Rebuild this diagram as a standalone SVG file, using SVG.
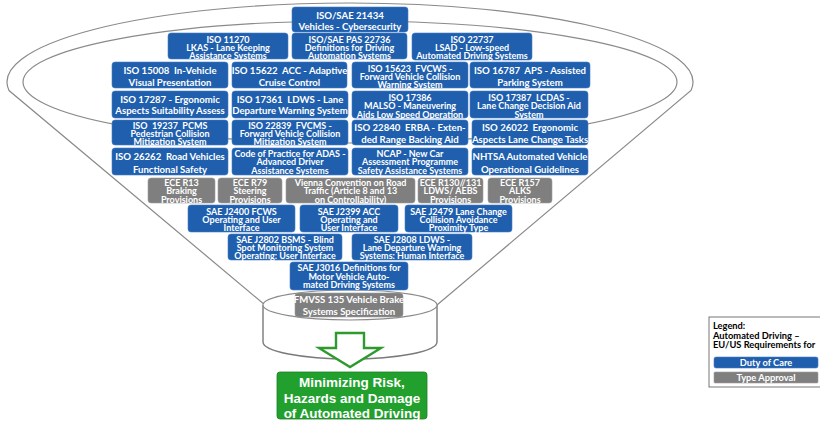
<svg xmlns="http://www.w3.org/2000/svg" width="820" height="422" viewBox="0 0 820 422">
<style>
.bl{fill:#1f5fae;stroke:#4a7fc4;stroke-width:0.6}
.gr{fill:#7f7f7f;stroke:#a0a0a0;stroke-width:0.6}
.t{font-family:Lato,"Liberation Sans",sans-serif;font-weight:700;fill:#fff;text-anchor:middle;white-space:pre}
.t2{font-size:9.6px}
.t3{font-size:9px}
.ln{fill:none;stroke:#8a8a8a;stroke-width:1.2}
.lg{font-family:Lato,"Liberation Sans",sans-serif;font-weight:700;font-size:9.3px;fill:#000}
</style>
<rect width="820" height="422" fill="#fff"/>
<g id="funnel">
<path class="ln" d="M265 305 L9 90.5 A343 79 0 1 1 691 90.5 L437 305" fill="#fff"/>
<ellipse class="ln" cx="350" cy="82" rx="327" ry="61"/>
<path d="M263 305 L263 342 A87 17 0 0 0 437 342 L437 305" fill="#fff" stroke="#7a7a7a" stroke-width="1.4"/>
<ellipse cx="350" cy="305" rx="87" ry="15" fill="#fff" stroke="#8a8a8a" stroke-width="1.1"/>
</g>
<g id="n21434"><rect class="bl" x="292" y="7" width="116" height="25" rx="3"/><text class="t t2"><tspan x="350" y="18.5">ISO/SAE 21434</tspan><tspan x="350" y="29.5">Vehicles - Cybersecurity</tspan></text></g>
<g id="n11270"><rect class="bl" x="168" y="33" width="120" height="26" rx="3"/><text class="t t3"><tspan x="228" y="42.5">ISO 11270</tspan><tspan x="228" y="51">LKAS - Lane Keeping</tspan><tspan x="228" y="58.5">Assistance Systems</tspan></text></g>
<g id="n22736"><rect class="bl" x="292" y="33" width="115" height="26" rx="3"/><text class="t t3"><tspan x="349.5" y="42.5">ISO/SAE PAS 22736</tspan><tspan x="349.5" y="51">Definitions for Driving</tspan><tspan x="349.5" y="58.5">Automation Systems</tspan></text></g>
<g id="n22737"><rect class="bl" x="412" y="33" width="120" height="27" rx="3"/><text class="t t3"><tspan x="472" y="42.5">ISO 22737</tspan><tspan x="472" y="51">LSAD - Low-speed</tspan><tspan x="472" y="58.5">Automated Driving Systems</tspan></text></g>
<g id="n15008"><rect class="bl" x="112" y="62" width="116" height="26" rx="3"/><text class="t t2"><tspan x="170" y="73.5">ISO 15008  In-Vehicle</tspan><tspan x="170" y="85.5">Visual Presentation</tspan></text></g>
<g id="n15622"><rect class="bl" x="232" y="62" width="115" height="26" rx="3"/><text class="t t2"><tspan x="289.5" y="73.5">ISO 15622  ACC - Adaptive</tspan><tspan x="289.5" y="85.5">Cruise Control</tspan></text></g>
<g id="n15623"><rect class="bl" x="352" y="62" width="116" height="26" rx="3"/><text class="t t3"><tspan x="410" y="71.5">ISO 15623  FVCWS -</tspan><tspan x="410" y="79.5">Forward Vehicle Collision</tspan><tspan x="410" y="88">Warning System</tspan></text></g>
<g id="n16787"><rect class="bl" x="470" y="62" width="120" height="26" rx="3"/><text class="t t2"><tspan x="530" y="73.5">ISO 16787  APS - Assisted</tspan><tspan x="530" y="85.5">Parking System</tspan></text></g>
<g id="n17287"><rect class="bl" x="112" y="91" width="116" height="27" rx="3"/><text class="t t2"><tspan x="170" y="102.5">ISO 17287 - Ergonomic</tspan><tspan x="170" y="114">Aspects Suitability Assess</tspan></text></g>
<g id="n17361"><rect class="bl" x="232" y="91" width="116" height="27" rx="3"/><text class="t t2"><tspan x="290" y="102.5">ISO 17361  LDWS - Lane</tspan><tspan x="290" y="114">Departure Warning System</tspan></text></g>
<g id="n17386"><rect class="bl" x="352" y="91" width="116" height="27" rx="3"/><text class="t t3"><tspan x="410" y="100.5">ISO 17386</tspan><tspan x="410" y="109">MALSO - Maneuvering</tspan><tspan x="410" y="117.5">Aids Low Speed Operation</tspan></text></g>
<g id="n17387"><rect class="bl" x="470" y="91" width="118" height="27" rx="3"/><text class="t t3"><tspan x="529" y="100.5">ISO 17387  LCDAS -</tspan><tspan x="529" y="109">Lane Change Decision Aid</tspan><tspan x="529" y="117.5">System</tspan></text></g>
<g id="n19237"><rect class="bl" x="112" y="120" width="116" height="25" rx="3"/><text class="t t3"><tspan x="170" y="128.5">ISO  19237  PCMS</tspan><tspan x="170" y="137">Pedestrian Collision</tspan><tspan x="170" y="145">Mitigation System</tspan></text></g>
<g id="n22839"><rect class="bl" x="232" y="120" width="116" height="25" rx="3"/><text class="t t3"><tspan x="290" y="128.5">ISO 22839  FVCMS -</tspan><tspan x="290" y="137">Forward Vehicle Collision</tspan><tspan x="290" y="145">Mitigation System</tspan></text></g>
<g id="n22840"><rect class="bl" x="352" y="120" width="116" height="25" rx="3"/><text class="t t2"><tspan x="410" y="130.5">ISO 22840  ERBA - Exten-</tspan><tspan x="410" y="142.5">ded Range Backing Aid</tspan></text></g>
<g id="n26022"><rect class="bl" x="472" y="120" width="116" height="25" rx="3"/><text class="t t2"><tspan x="530" y="130.5">ISO 26022  Ergonomic</tspan><tspan x="530" y="142.5">Aspects Lane Change Tasks</tspan></text></g>
<g id="n26262"><rect class="bl" x="112" y="148" width="116" height="27" rx="3"/><text class="t t2"><tspan x="170" y="160">ISO 26262  Road Vehicles</tspan><tspan x="170" y="172.5">Functional Safety</tspan></text></g>
<g id="nCoP"><rect class="bl" x="232" y="148" width="116" height="27" rx="3"/><text class="t t3"><tspan x="290" y="156.5">Code of Practice for ADAS -</tspan><tspan x="290" y="165">Advanced Driver</tspan><tspan x="290" y="174">Assistance Systems</tspan></text></g>
<g id="nNCAP"><rect class="bl" x="352" y="148" width="116" height="27" rx="3"/><text class="t t3"><tspan x="410" y="156.5">NCAP - New Car</tspan><tspan x="410" y="165">Assessment Programme</tspan><tspan x="410" y="174">Safety Assistance Systems</tspan></text></g>
<g id="nNHTSA"><rect class="bl" x="472" y="148" width="116" height="27" rx="3"/><text class="t t2"><tspan x="530" y="159.5">NHTSA Automated Vehicle</tspan><tspan x="530" y="172.5">Operational Guidelines</tspan></text></g>
<g id="nR13"><rect class="gr" x="148" y="178" width="67" height="25" rx="3"/><text class="t t3"><tspan x="181.5" y="185.5">ECE R13</tspan><tspan x="181.5" y="194">Braking</tspan><tspan x="181.5" y="202.5">Provisions</tspan></text></g>
<g id="nR79"><rect class="gr" x="218" y="178" width="64" height="25" rx="3"/><text class="t t3"><tspan x="250" y="185.5">ECE R79</tspan><tspan x="250" y="194">Steering</tspan><tspan x="250" y="202.5">Provisions</tspan></text></g>
<g id="nVienna"><rect class="gr" x="286" y="178" width="129" height="25" rx="3"/><text class="t t3"><tspan x="350.5" y="185.5">Vienna Convention on Road</tspan><tspan x="350.5" y="194">Traffic (Article 8 and 13</tspan><tspan x="350.5" y="202.5">on Controllability)</tspan></text></g>
<g id="nR130"><rect class="gr" x="418" y="178" width="65" height="25" rx="3"/><text class="t t3"><tspan x="450.5" y="185.5">ECE R130//131</tspan><tspan x="450.5" y="194">LDWS/ AEBS</tspan><tspan x="450.5" y="202.5">Provisions</tspan></text></g>
<g id="nR157"><rect class="gr" x="488" y="178" width="64" height="25" rx="3"/><text class="t t3"><tspan x="520" y="185.5">ECE R157</tspan><tspan x="520" y="194">ALKS</tspan><tspan x="520" y="202.5">Provisions</tspan></text></g>
<g id="nJ2400"><rect class="bl" x="188" y="205" width="107" height="27" rx="3"/><text class="t t3"><tspan x="241.5" y="214.5">SAE J2400 FCWS</tspan><tspan x="241.5" y="222.5">Operating and User</tspan><tspan x="241.5" y="231">Interface</tspan></text></g>
<g id="nJ2399"><rect class="bl" x="300" y="205" width="98" height="27" rx="3"/><text class="t t3"><tspan x="349" y="214.5">SAE J2399 ACC</tspan><tspan x="349" y="222.5">Operating and</tspan><tspan x="349" y="231">User Interface</tspan></text></g>
<g id="nJ2479"><rect class="bl" x="405" y="205" width="107" height="27" rx="3"/><text class="t t3"><tspan x="458.5" y="214.5">SAE J2479 Lane Change</tspan><tspan x="458.5" y="222.5">Collision Avoidance</tspan><tspan x="458.5" y="231">Proximity Type</tspan></text></g>
<g id="nJ2802"><rect class="bl" x="228" y="234" width="114" height="26" rx="3"/><text class="t t3"><tspan x="285" y="242.5">SAE J2802 BSMS - Blind</tspan><tspan x="285" y="251">Spot Monitoring System</tspan><tspan x="285" y="259">Operating: User Interface</tspan></text></g>
<g id="nJ2808"><rect class="bl" x="352" y="234" width="120" height="26" rx="3"/><text class="t t3"><tspan x="412" y="242.5">SAE J2808 LDWS -</tspan><tspan x="412" y="251">Lane Departure Warning</tspan><tspan x="412" y="259">Systems: Human Interface</tspan></text></g>
<g id="nJ3016"><rect class="bl" x="290" y="262" width="118" height="28" rx="3"/><text class="t t3"><tspan x="349" y="270.5">SAE J3016 Definitions for</tspan><tspan x="349" y="279.5">Motor Vehicle Auto-</tspan><tspan x="349" y="288">mated Driving Systems</tspan></text></g>
<g id="nFMVSS"><rect class="gr" x="295" y="293" width="108" height="24" rx="3"/><text class="t t2"><tspan x="349" y="302.5">FMVSS 135 Vehicle Brake</tspan><tspan x="349" y="314.5">Systems Specification</tspan></text></g>
<g id="connectors">
<path d="M336 333 L364 333 L364 348 L381 348 L350 367 L319 348 L336 348 Z" fill="#fff" stroke="#2e9a2e" stroke-width="2.4" stroke-linejoin="miter"/>
</g>
<g id="result"><rect x="277" y="372" width="150" height="47" rx="3" fill="#22a02e" stroke="#1c7f24" stroke-width="0.8"/><text font-family="'Liberation Sans',Arial,sans-serif" font-weight="700" font-size="13.5" fill="#fff" text-anchor="middle"><tspan x="352" y="387">Minimizing Risk,</tspan><tspan x="352" y="402.5">Hazards and Damage</tspan><tspan x="352" y="418">of Automated Driving</tspan></text></g>
<g id="legend">
<rect x="709" y="317" width="115" height="70" fill="#fff" stroke="#555" stroke-width="0.8"/>
<text class="lg"><tspan x="713" y="329">Legend:</tspan><tspan x="713" y="338.5">Automated Driving –</tspan><tspan x="713" y="348">EU/US Requirements for</tspan></text>
<rect class="bl" x="714" y="357" width="104" height="11" rx="2"/>
<text class="t" font-size="9.3" x="766" y="365.5">Duty of Care</text>
<rect class="gr" x="714" y="372" width="104" height="11" rx="1"/>
<text class="t" font-size="9.3" x="766" y="380.5">Type Approval</text>
</g>
</svg>
